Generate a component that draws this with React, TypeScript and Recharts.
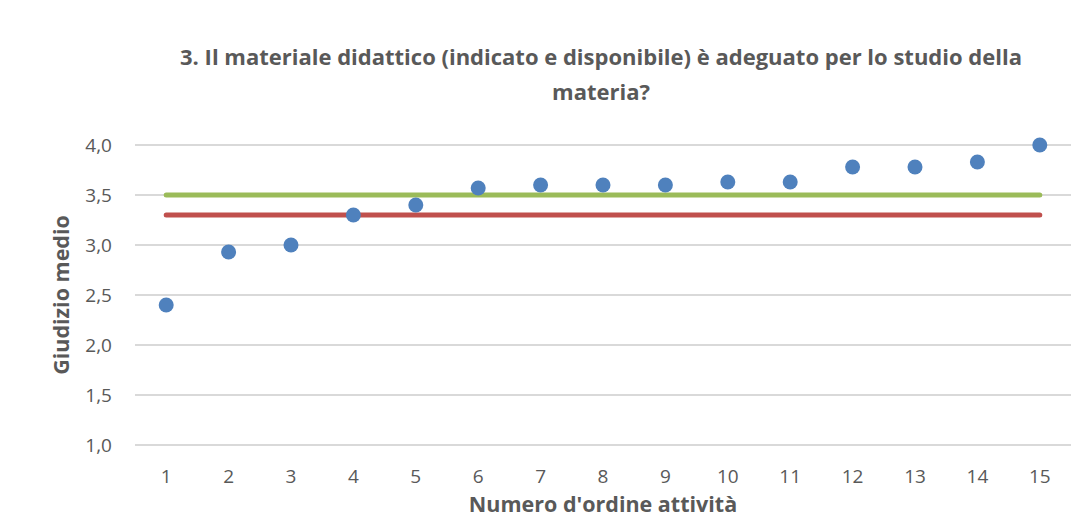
import React from 'react';
import { ComposedChart, XAxis, YAxis, CartesianGrid, Scatter, Line } from 'recharts';

const categories = [1, 2, 3, 4, 5, 6, 7, 8, 9, 10, 11, 12, 13, 14, 15];
const giudizio = [2.4, 2.93, 3.0, 3.3, 3.4, 3.57, 3.6, 3.6, 3.6, 3.63, 3.63, 3.78, 3.78, 3.83, 4.0];
const mediaVerde = 3.5;
const mediaRossa = 3.3;
const yTicks = [1.0, 1.5, 2.0, 2.5, 3.0, 3.5, 4.0];

const data = categories.map((c, i) => ({
  x: String(c),
  y: giudizio[i],
  green: mediaVerde,
  red: mediaRossa,
}));

const FONT = "'Open Sans', 'Noto Sans', sans-serif";
const TXT = '#595959';

export default function App() {
  return (
    <div style={{ position: 'relative', width: 1088, height: 522, marginLeft: -8, marginTop: -8, background: '#fff', fontFamily: FONT }}>
      <ComposedChart
        width={1088}
        height={522}
        data={data}
        margin={{ top: 145, right: 17, bottom: 0, left: 0 }}
      >
        <path d="M 5.5 522 L 5.5 5.5 L 1088 5.5" fill="none" stroke="#D9D9D9" strokeWidth={1.5} />
        <CartesianGrid vertical={false} stroke="#D9D9D9" strokeWidth={2} />
        <XAxis
          dataKey="x"
          type="category"
          scale="band"
          axisLine={{ stroke: '#D9D9D9', strokeWidth: 2 }}
          tickLine={false}
          tickSize={0}
          tickMargin={25}
          tick={{ fill: TXT, fontSize: 19, fontFamily: FONT }}
          interval={0}
          height={77}
        />
        <YAxis
          type="number"
          domain={[1, 4]}
          ticks={yTicks}
          width={135}
          axisLine={false}
          tickLine={false}
          tickSize={0}
          tickMargin={23}
          tickFormatter={(v: number) => v.toFixed(1).replace('.', ',')}
          tick={{ fill: TXT, fontSize: 19, fontFamily: FONT }}
        />
        <Line dataKey="green" stroke="#9BBB59" strokeWidth={5} strokeLinecap="round" dot={false} activeDot={false} isAnimationActive={false} />
        <Line dataKey="red" stroke="#C0504D" strokeWidth={5} strokeLinecap="round" dot={false} activeDot={false} isAnimationActive={false} />
        <Scatter
          dataKey="y"
          fill="#4F81BD"
          isAnimationActive={false}
          shape={(p: any) => <circle cx={p.cx} cy={p.cy} r={7.5} fill="#4F81BD" />}
        />
      </ComposedChart>
      <div style={{ position: 'absolute', left: 0, width: 1202, top: 39, textAlign: 'center', fontWeight: 700, fontSize: 22, lineHeight: '35px', color: TXT }}>
        3. Il materiale didattico (indicato e disponibile) è adeguato per lo studio della
        <br />
        materia?
      </div>
      <div style={{ position: 'absolute', left: 603, top: 503, transform: 'translate(-50%, -50%)', whiteSpace: 'nowrap', fontWeight: 700, fontSize: 21.5, color: TXT }}>
        Numero d'ordine attività
      </div>
      <div style={{ position: 'absolute', left: 60, top: 295, transform: 'translate(-50%, -50%) rotate(-90deg)', whiteSpace: 'nowrap', fontWeight: 700, fontSize: 21.5, color: TXT }}>
        Giudizio medio
      </div>
    </div>
  );
}
